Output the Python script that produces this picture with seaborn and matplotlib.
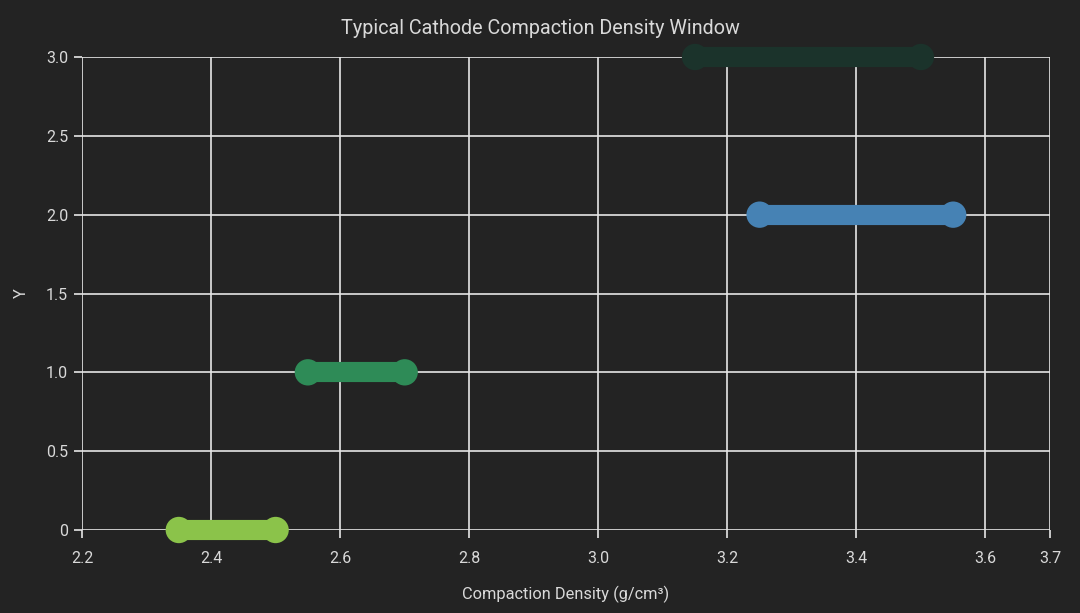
import matplotlib
matplotlib.use("Agg")
import matplotlib.pyplot as plt
import seaborn as sns
import pandas as pd
from matplotlib.ticker import FuncFormatter

# data
materials = ["Material A", "Material B", "Material C", "Material D"]
y_pos = [0, 1, 2, 3]
density_low = [2.35, 2.55, 3.25, 3.15]
density_high = [2.50, 2.70, 3.55, 3.50]
colors = ["#8bc34a", "#2e8b57", "#4682b4", "#1b332b"]

rows = []
for name, y, lo, hi in zip(materials, y_pos, density_low, density_high):
    rows.append({"material": name, "density": lo, "y": y})
    rows.append({"material": name, "density": hi, "y": y})
df = pd.DataFrame(rows)
palette = dict(zip(materials, colors))

bg = "#232323"
fg = "#d9d9d9"

sns.set_theme(style="darkgrid")
plt.rcParams["font.family"] = ["Roboto", "DejaVu Sans"]

fig = plt.figure(figsize=(10.8, 6.13), dpi=100, facecolor=bg)
ax = fig.add_axes([82 / 1080, 1 - 530 / 613, (1050 - 82) / 1080, (530 - 57) / 613])
ax.set_facecolor(bg)

sns.lineplot(data=df, x="density", y="y", hue="material", units="material",
             estimator=None, palette=palette, linewidth=14.5, legend=False,
             ax=ax, zorder=3, clip_on=False, sort=False)
sns.scatterplot(data=df, x="density", y="y", hue="material", palette=palette,
                s=360, linewidth=0, legend=False, ax=ax, zorder=4, clip_on=False)

ax.set_xlim(2.2, 3.7)
ax.set_ylim(0, 3)
ax.set_xticks([2.2, 2.4, 2.6, 2.8, 3.0, 3.2, 3.4, 3.6, 3.7])
ax.set_yticks([0, 0.5, 1.0, 1.5, 2.0, 2.5, 3.0])
ax.xaxis.set_major_formatter(FuncFormatter(lambda v, p: f"{v:.1f}"))
ax.yaxis.set_major_formatter(FuncFormatter(lambda v, p: "0" if v == 0 else f"{v:.1f}"))

ax.grid(True, color="#e6e6e6", linewidth=1.2)
for s in ax.spines.values():
    s.set_visible(False)
ax.tick_params(colors=fg, labelsize=11.5, length=6, width=1.2, direction="out",
               bottom=True, left=True)
ax.tick_params(axis="x", pad=9, color="#e6e6e6")
ax.tick_params(axis="y", pad=4, color="#e6e6e6")

ax.set_xlabel("Compaction Density (g/cm³)", color=fg, fontsize=11.8, labelpad=14)
ax.set_ylabel("Y", color=fg, fontsize=11.8, labelpad=12)
fig.suptitle("Typical Cathode Compaction Density Window", color=fg, fontsize=14.2,
             x=0.5, y=1 - 29 / 613, va="center")

plt.savefig("out.png", dpi=100, facecolor=bg)
plt.close()
